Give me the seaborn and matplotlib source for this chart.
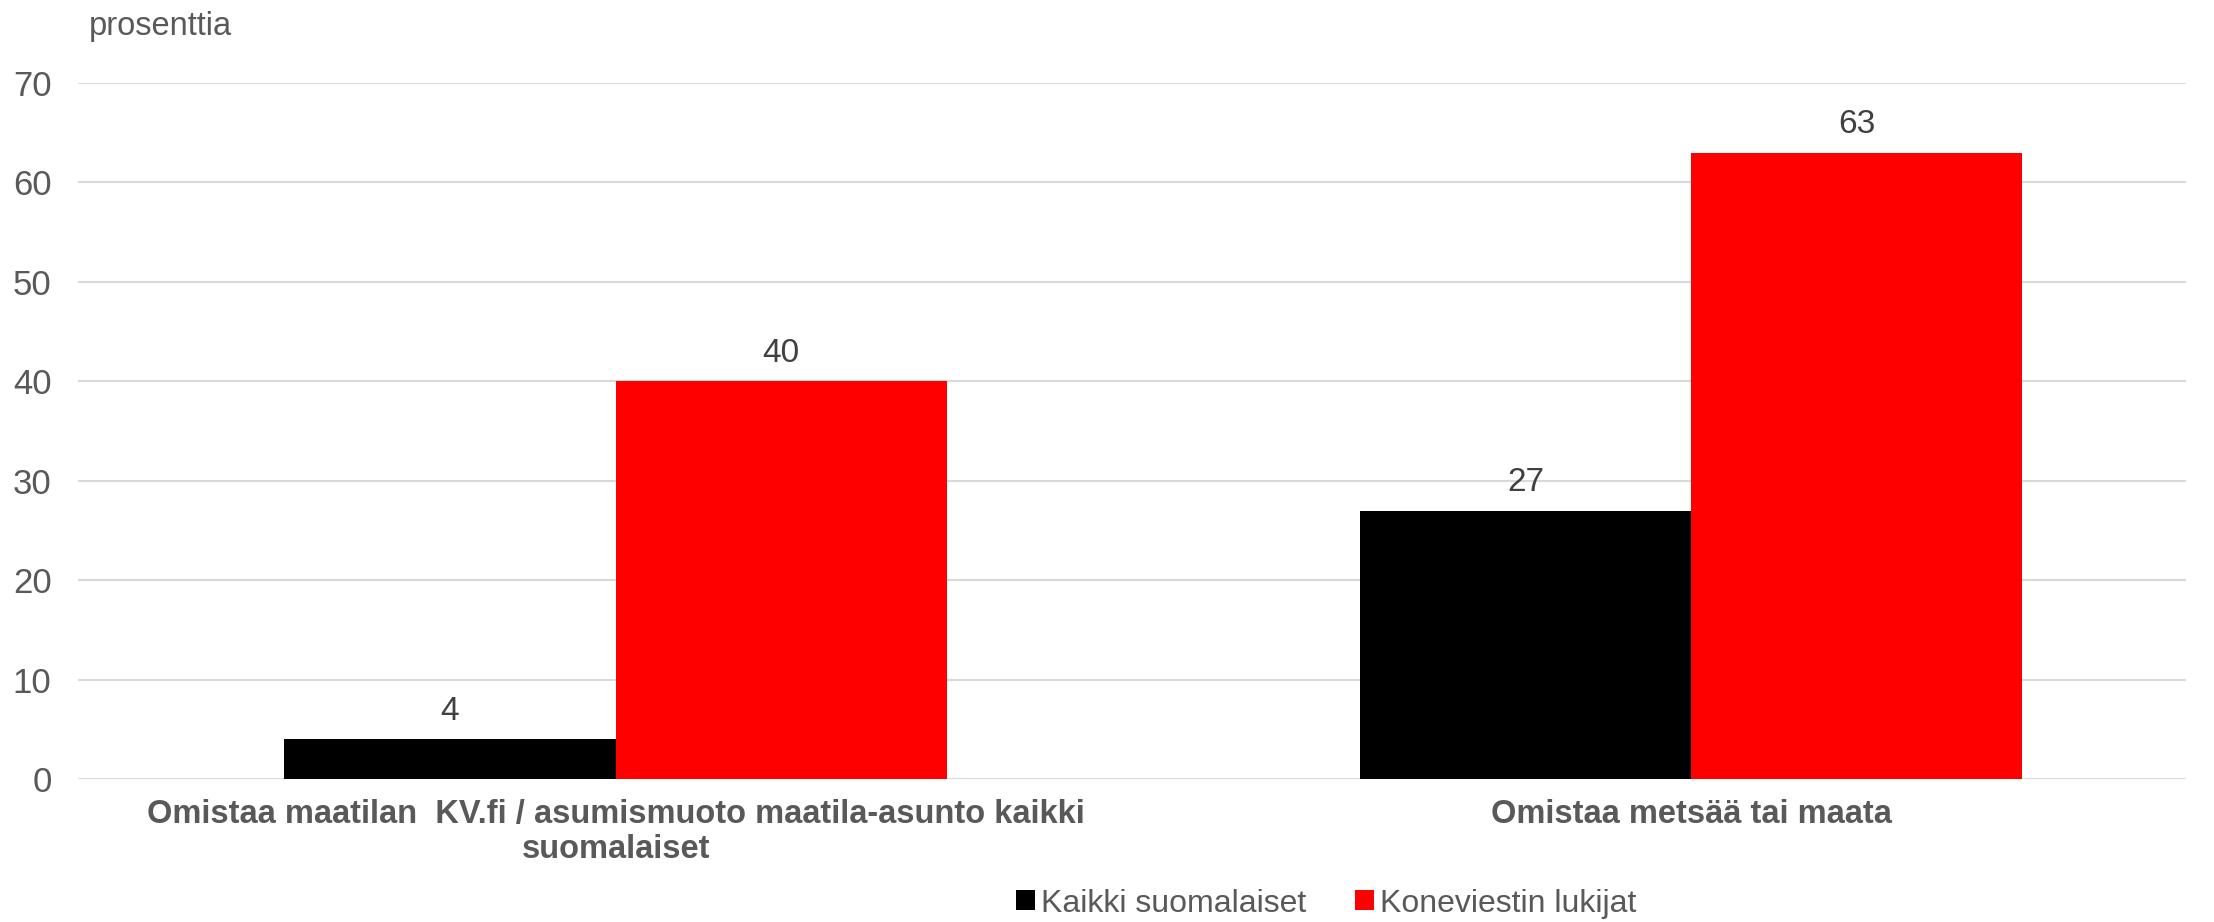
import numpy as np
import pandas as pd
import seaborn as sns
import matplotlib.pyplot as plt

sns.set_style("white")
plt.rcParams['font.family'] = ['Liberation Sans', 'DejaVu Sans']

# data
categories = ["Omistaa maatilan  KV.fi / asumismuoto maatila-asunto kaikki\nsuomalaiset",
              "Omistaa metsää tai maata"]
series = ["Kaikki suomalaiset", "Koneviestin lukijat"]
kaikki = [4, 27]
lukijat = [40, 63]

df = pd.DataFrame({
    "kategoria": categories * 2,
    "ryhma": [series[0]] * 2 + [series[1]] * 2,
    "arvo": kaikki + lukijat,
})

text_col = "#595959"

fig = plt.figure(figsize=(22.14, 9.22), dpi=100)
ax = fig.add_axes([0.0352, 0.155, 0.952, 0.755])

sns.barplot(data=df, x="kategoria", y="arvo", hue="ryhma",
            palette=["#000000", "#FF0000"], width=0.616,
            saturation=1, edgecolor="none", linewidth=0, ax=ax)

for c in ax.containers:
    ax.bar_label(c, fmt="%g", padding=9, fontsize=24, color="#404040")

ax.set_ylim(0, 70)
ax.set_xlim(-0.5, 1.46)
ax.set_yticks(range(0, 71, 10))
ax.yaxis.grid(True, color="#d9d9d9", linewidth=1.5)
ax.set_axisbelow(True)
ax.tick_params(axis="y", length=0, labelsize=25, labelcolor=text_col, pad=19)
ax.tick_params(axis="x", length=0, labelsize=23.5, labelcolor=text_col, pad=14)
for lbl in ax.get_xticklabels():
    lbl.set_fontweight("bold")
for s in ax.spines.values():
    s.set_visible(False)
ax.set_xlabel("")
ax.set_ylabel("")

fig.text(89 / 2214, 1 - 27 / 922, "prosenttia", fontsize=23.5, color=text_col,
         va="center", ha="left")

handles, labels = ax.get_legend_handles_labels()
ax.legend_.remove()
fig.legend(handles, labels, loc="center", bbox_to_anchor=(0.599, 0.02),
           ncol=2, frameon=False, fontsize=23, labelcolor=text_col,
           handlelength=0.6, handleheight=0.6, handletextpad=0.2,
           columnspacing=1.5)

plt.savefig("out.png", dpi=100)
